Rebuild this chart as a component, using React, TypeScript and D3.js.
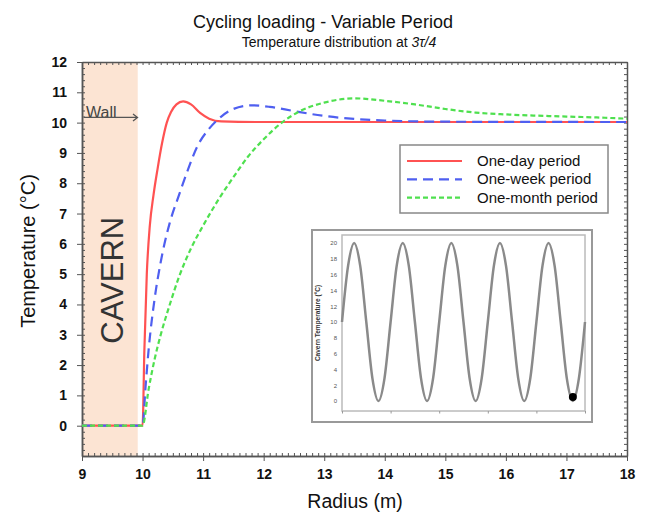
import * as d3 from 'd3';
import React, { useEffect, useRef } from 'react';

// main chart series: [radius (m), temperature (°C)]
const oneDay: [number, number][] = [
  [9, 0], [10, 0], [10.03, 2.5], [10.07, 5.0], [10.12, 6.6], [10.18, 7.6], [10.25, 8.5],
  [10.32, 9.3], [10.4, 10.0], [10.47, 10.35], [10.56, 10.6], [10.67, 10.7],
  [10.8, 10.6], [10.95, 10.32], [11.1, 10.13], [11.3, 10.04], [12, 10.02], [18, 10.02],
];
const oneWeek: [number, number][] = [
  [9, 0], [10, 0], [10.05, 1.3], [10.1, 2.5], [10.2, 4.2], [10.3, 5.4], [10.45, 6.7],
  [10.6, 7.6], [10.75, 8.45], [10.9, 9.2], [11.1, 9.8], [11.3, 10.2], [11.5, 10.45],
  [11.8, 10.57], [12.1, 10.52], [12.5, 10.38], [13, 10.22], [13.5, 10.12],
  [14, 10.07], [15, 10.03], [18, 10.02],
];
const oneMonth: [number, number][] = [
  [9, 0], [10, 0], [10.1, 1.2], [10.2, 2.2], [10.3, 3.0], [10.45, 4.0], [10.6, 4.9],
  [10.8, 5.85], [11, 6.6], [11.25, 7.45], [11.5, 8.2], [11.75, 8.9], [12, 9.45],
  [12.3, 10.0], [12.6, 10.38], [13, 10.66], [13.5, 10.8], [14, 10.72], [14.5, 10.6],
  [15, 10.45], [15.5, 10.33], [16, 10.27], [16.5, 10.23], [17, 10.2], [17.5, 10.17],
  [18, 10.13],
];

const seriesNames = ['One-day period', 'One-week period', 'One-month period'];
const seriesColors = ['#ff5252', '#4f5ff0', '#4fe04f'];
const seriesDash = ['none', '10,6', '5,3'];

const xTicks = [9, 10, 11, 12, 13, 14, 15, 16, 17, 18];
const yTicks = [0, 1, 2, 3, 4, 5, 6, 7, 8, 9, 10, 11, 12];

// inset: cavern temperature, sampled every 1/8 of a period
const insetTime = d3.range(0, 41).map(i => i / 8);
const insetTemp = [
  10, 17.1, 20, 17.1, 10, 2.9, 0, 2.9,
  10, 17.1, 20, 17.1, 10, 2.9, 0, 2.9,
  10, 17.1, 20, 17.1, 10, 2.9, 0, 2.9,
  10, 17.1, 20, 17.1, 10, 2.9, 0, 2.9,
  10, 17.1, 20, 17.1, 10, 2.9, 0, 2.9,
  10,
];
const insetYTicks = [0, 2, 4, 6, 8, 10, 12, 14, 16, 18, 20];
const insetMarker: [number, number] = [4.75, 0.5];

const FONT = 'Liberation Sans, Arial, sans-serif';

const App = () => {
  const ref = useRef<SVGSVGElement>(null);

  useEffect(() => {
    if (!ref.current) return;
    const svg = d3.select(ref.current);
    svg.selectAll('*').remove();

    const x = d3.scaleLinear().domain([9, 18]).range([82, 627]);
    const y = d3.scaleLinear().domain([-1, 12]).range([456, 62]);

    // cavern zone
    svg.append('rect')
      .attr('x', x(9)).attr('y', y(12))
      .attr('width', x(9.92) - x(9)).attr('height', y(-1) - y(12))
      .attr('fill', '#fce4d3');

    svg.append('text')
      .attr('transform', `translate(${x(9.5) + 11},${y(4.8)}) rotate(-90)`)
      .attr('text-anchor', 'middle')
      .attr('font-family', FONT).attr('font-size', 31)
      .attr('fill', '#333')
      .text('CAVERN');

    // axes
    const axisColor = '#555';
    const styleAxis = (g: any) => {
      g.select('.domain').attr('stroke', axisColor).attr('stroke-width', 1.5);
      g.selectAll('.tick line').attr('stroke', axisColor);
    };

    // minor ticks (inward)
    const xMinor = d3.range(9, 18.001, 0.1);
    const yMinor = d3.range(-1, 12.001, 0.2);
    svg.append('g').attr('transform', `translate(0,${y(-1)})`)
      .call(d3.axisBottom(x).tickValues(xMinor).tickSize(-3).tickFormat(() => '').tickSizeOuter(0))
      .call(styleAxis);
    svg.append('g').attr('transform', `translate(0,${y(12)})`)
      .call(d3.axisTop(x).tickValues(xMinor).tickSize(-3).tickFormat(() => '').tickSizeOuter(0))
      .call(styleAxis);
    svg.append('g').attr('transform', `translate(${x(9)},0)`)
      .call(d3.axisLeft(y).tickValues(yMinor).tickSize(-3).tickFormat(() => '').tickSizeOuter(0))
      .call(styleAxis);
    svg.append('g').attr('transform', `translate(${x(18)},0)`)
      .call(d3.axisRight(y).tickValues(yMinor).tickSize(-3).tickFormat(() => '').tickSizeOuter(0))
      .call(styleAxis);

    // major ticks with labels
    const xAxis = svg.append('g').attr('transform', `translate(0,${y(-1)})`)
      .call(d3.axisBottom(x).tickValues(xTicks).tickSize(5).tickPadding(8).tickFormat(d3.format('d')).tickSizeOuter(0))
      .call(styleAxis);
    const yAxis = svg.append('g').attr('transform', `translate(${x(9)},0)`)
      .call(d3.axisLeft(y).tickValues(yTicks).tickSize(5).tickPadding(10).tickFormat(d3.format('d')).tickSizeOuter(0))
      .call(styleAxis);
    [xAxis, yAxis].forEach(g => g.selectAll('text')
      .attr('font-family', FONT).attr('font-size', 14).attr('font-weight', 'bold').attr('fill', '#111'));

    // wall marker
    svg.append('text')
      .attr('x', 86).attr('y', 118)
      .attr('font-family', FONT).attr('font-size', 16).attr('fill', '#444')
      .text('Wall');
    svg.append('line')
      .attr('x1', 84).attr('x2', 137).attr('y1', y(10.17)).attr('y2', y(10.17))
      .attr('stroke', '#555').attr('stroke-width', 1.3);
    svg.append('path')
      .attr('d', `M${133},${y(10.17) - 3.5}L${137.5},${y(10.17)}L${133},${y(10.17) + 3.5}`)
      .attr('fill', 'none').attr('stroke', '#555').attr('stroke-width', 1.3);

    // curves (red underneath, green on top)
    const line = d3.line<[number, number]>()
      .x(d => x(d[0])).y(d => y(d[1]))
      .curve(d3.curveMonotoneX);
    [oneDay, oneWeek, oneMonth].forEach((data, i) => {
      svg.append('path')
        .datum(data)
        .attr('d', line)
        .attr('fill', 'none')
        .attr('stroke', seriesColors[i])
        .attr('stroke-width', 2.2)
        .attr('stroke-dasharray', seriesDash[i]);
    });

    // legend
    const lg = svg.append('g');
    lg.append('rect')
      .attr('x', 400).attr('y', 145).attr('width', 208).attr('height', 68)
      .attr('fill', 'white').attr('stroke', '#888').attr('stroke-width', 1.5);
    seriesNames.forEach((name, i) => {
      const yy = 161 + i * 18.3;
      lg.append('line')
        .attr('x1', 407).attr('x2', 462).attr('y1', yy).attr('y2', yy)
        .attr('stroke', seriesColors[i]).attr('stroke-width', 2.2)
        .attr('stroke-dasharray', seriesDash[i]);
      lg.append('text')
        .attr('x', 477).attr('y', yy + 5)
        .attr('font-family', FONT).attr('font-size', 15).attr('fill', '#111')
        .text(name);
    });

    // inset
    const ix = d3.scaleLinear().domain([0, 5]).range([342, 585]);
    const iy = d3.scaleLinear().domain([0, 20]).range([401, 243]);
    const inset = svg.append('g');
    inset.append('rect')
      .attr('x', 312).attr('y', 230).attr('width', 280).attr('height', 192)
      .attr('fill', 'white').attr('stroke', '#999').attr('stroke-width', 2);
    inset.append('rect')
      .attr('x', 342).attr('y', 235).attr('width', 243).attr('height', 176)
      .attr('fill', 'none').attr('stroke', '#bbb').attr('stroke-width', 1.5);
    const iyAxis = inset.append('g').attr('transform', 'translate(342,0)')
      .call(d3.axisLeft(iy).tickValues(insetYTicks).tickSize(0).tickPadding(5));
    iyAxis.select('.domain').remove();
    iyAxis.selectAll('text').attr('font-family', FONT).attr('font-size', 6).attr('fill', '#555');
    const ixAxis = inset.append('g').attr('transform', 'translate(0,411)')
      .call(d3.axisBottom(ix).ticks(5).tickSize(2.5).tickFormat(() => ''));
    ixAxis.select('.domain').remove();
    ixAxis.selectAll('line').attr('stroke', '#999');
    inset.append('text')
      .attr('transform', 'translate(320,323) rotate(-90)')
      .attr('text-anchor', 'middle')
      .attr('font-family', FONT).attr('font-size', 6.5).attr('font-weight', 'bold').attr('fill', '#333')
      .text('Cavern Temperature (°C)');
    const iline = d3.line<number>()
      .x((_, i) => ix(insetTime[i])).y(d => iy(d))
      .curve(d3.curveMonotoneX);
    inset.append('path')
      .datum(insetTemp)
      .attr('d', iline)
      .attr('fill', 'none').attr('stroke', '#8a8a8a').attr('stroke-width', 2.5);
    inset.append('circle')
      .attr('cx', ix(insetMarker[0])).attr('cy', iy(insetMarker[1])).attr('r', 4)
      .attr('fill', '#000');

    // titles
    svg.append('text')
      .attr('x', 323).attr('y', 28).attr('text-anchor', 'middle')
      .attr('font-family', FONT).attr('font-size', 18).attr('fill', '#111')
      .text('Cycling loading - Variable Period');
    const sub = svg.append('text')
      .attr('x', 339).attr('y', 47).attr('text-anchor', 'middle')
      .attr('font-family', FONT).attr('font-size', 14).attr('fill', '#111');
    sub.append('tspan').text('Temperature distribution at ');
    sub.append('tspan').attr('font-style', 'italic').text('3τ/4');

    svg.append('text')
      .attr('x', 355).attr('y', 508).attr('text-anchor', 'middle')
      .attr('font-family', FONT).attr('font-size', 19.5).attr('fill', '#111')
      .text('Radius (m)');
    svg.append('text')
      .attr('transform', `translate(35,251) rotate(-90)`)
      .attr('text-anchor', 'middle')
      .attr('font-family', FONT).attr('font-size', 20).attr('fill', '#111')
      .text('Temperature (°C)');
  }, []);

  return (
    <svg ref={ref} width={646} height={518}
      style={{ position: 'absolute', left: 0, top: 0, background: 'white' }} />
  );
};

export default App;
